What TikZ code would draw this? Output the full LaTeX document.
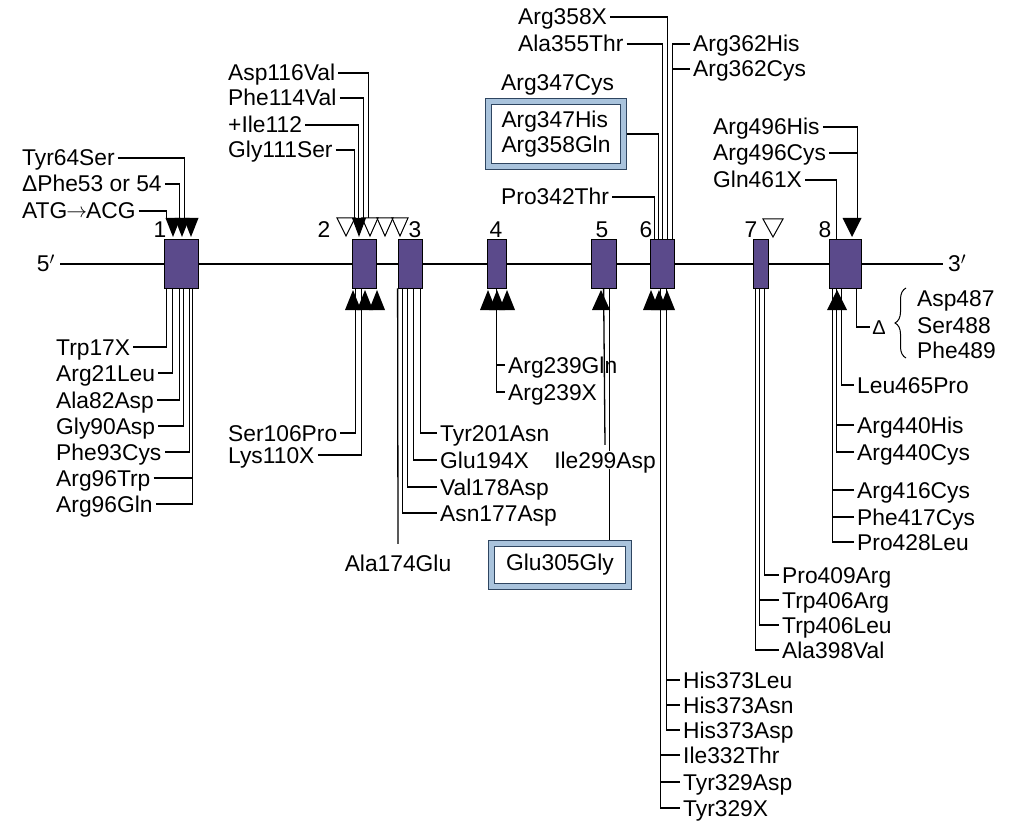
\documentclass[tikz,border=0pt]{standalone}
\usepackage{fontspec}
\setmainfont{Liberation Sans}
\usetikzlibrary{decorations.pathreplacing}
\definecolor{ExonFill}{HTML}{5B4A8B}
\definecolor{FrameInk}{HTML}{2E4560}
\definecolor{FrameBlue}{HTML}{A9C3DC}
\newcommand{\labsize}{\fontsize{22.8}{25}\selectfont}

\begin{document}
\begin{tikzpicture}[x=1pt, y=-1pt,
  exon/.style={draw=black, line width=0.8pt, fill=ExonFill, minimum height=49pt, inner sep=0pt},
  lab/.style={font=\labsize, inner sep=3pt, text height=16pt, text depth=0pt, anchor=west},
  num/.style={font=\labsize, inner sep=0pt, text height=16pt, text depth=0pt},
  link/.style={line width=1.3pt},
  hlbox/.style={draw=FrameInk, double=FrameBlue, double distance=4.5pt, line width=1.1pt,
                fill=white, outer sep=3.3pt, font=\labsize, align=left},
  solidtri/.style={fill=black},
  opentri/.style={draw=black, line width=1pt}]
  \useasboundingbox[fill=white] (0,0) rectangle (1015,821);

  % backbone and exons
  \coordinate (five) at (60,264);
  \coordinate (three) at (943,264);
  \draw[line width=2.6pt] (five) -- (three);
  \node[num, anchor=east] (p5) at (55,264) {5$'$};
  \node[num, anchor=west] (p3) at (948,264) {3$'$};

  \node[exon, minimum width=34pt] (e1) at (181,263.5) {};
  \node[exon, minimum width=24pt] (e2) at (364,263.5) {};
  \node[exon, minimum width=24pt] (e3) at (410,263.5) {};
  \node[exon, minimum width=19pt] (e4) at (496.5,263.5) {};
  \node[exon, minimum width=25pt] (e5) at (603.5,263.5) {};
  \node[exon, minimum width=24pt] (e6) at (662,263.5) {};
  \node[exon, minimum width=15pt] (e7) at (760.5,263.5) {};
  \node[exon, minimum width=32pt] (e8) at (845,263.5) {};

  \node[num] (n1) at (160,229.5) {1};
  \node[num] (n2) at (324,229.5) {2};
  \node[num] (n3) at (415,229.5) {3};
  \node[num] (n4) at (496,229.5) {4};
  \node[num] (n5) at (602,229.5) {5};
  \node[num] (n6) at (646,229.5) {6};
  \node[num] (n7) at (751,229.5) {7};
  \node[num] (n8) at (825,229.5) {8};

  % exon 1
  \node[lab] (tyr64) at (19,158) {Tyr64Ser};
  \node[lab] (dphe53) at (19,184) {ΔPhe53 or 54};
  \node[lab] (atg) at (19,211) {ATG\kern-1pt\raisebox{1.5pt}{\fontsize{20}{20}\selectfont$\rightarrow$}\kern-1pt ACG};
  \draw[link] (tyr64.east) -| ([xshift=21pt,yshift=21pt]e1.north west);
  \draw[link] (dphe53.east) -| ([xshift=16pt,yshift=21pt]e1.north west);
  \draw[link] (atg.east) -| ([xshift=3pt,yshift=21pt]e1.north west);

  \node[lab] (trp17) at (53,347) {Trp17X};
  \node[lab] (arg21) at (53,373) {Arg21Leu};
  \node[lab] (ala82) at (53,400) {Ala82Asp};
  \node[lab] (gly90) at (53,426) {Gly90Asp};
  \node[lab] (phe93) at (53,452) {Phe93Cys};
  \node[lab] (arg96trp) at (53,478) {Arg96Trp};
  \node[lab] (arg96gln) at (53,504) {Arg96Gln};
  \draw[link] ([xshift=3pt]e1.south west) |- (trp17.east);
  \draw[link] ([xshift=9pt]e1.south west) |- (arg21.east);
  \draw[link] ([xshift=16pt]e1.south west) |- (ala82.east);
  \draw[link] ([xshift=20pt]e1.south west) |- (gly90.east);
  \draw[link] ([xshift=26pt]e1.south west) |- (phe93.east);
  \draw[link] ([xshift=29pt]e1.south west) |- (arg96gln.east);
  \draw[link] (arg96trp.east) -- ([xshift=29pt]e1.south west |- arg96trp.east);

  % exon 2
  \node[lab] (asp116) at (225,73) {Asp116Val};
  \node[lab] (phe114) at (225,98) {Phe114Val};
  \node[lab] (ile112) at (225,125) {+Ile112};
  \node[lab] (gly111) at (225,150) {Gly111Ser};
  \draw[link] (asp116.east) -| ([xshift=17pt,yshift=21pt]e2.north west);
  \draw[link] (phe114.east) -| ([xshift=12pt,yshift=21pt]e2.north west);
  \draw[link] (ile112.east) -| ([xshift=7pt,yshift=21pt]e2.north west);
  \draw[link] (gly111.east) -| ([xshift=3pt,yshift=21pt]e2.north west);

  \node[lab] (ser106) at (225,433) {Ser106Pro};
  \node[lab] (lys110) at (225,455) {Lys110X};
  \draw[link] ([xshift=4pt]e2.south west) |- (ser106.east);
  \draw[link] ([xshift=10pt]e2.south west) |- (lys110.east);

  % exon 3
  \node[lab] (tyr201) at (437,433) {Tyr201Asn};
  \node[lab] (glu194) at (437,460) {Glu194X};
  \node[lab] (val178) at (437,487) {Val178Asp};
  \node[lab] (asn177) at (437,513) {Asn177Asp};
  \node[num] (ala174) at (398,563) {Ala174Glu};
  \draw[link] ([xshift=23pt]e3.south west) |- (tyr201.west);
  \draw[link] ([xshift=16pt]e3.south west) |- (glu194.west);
  \draw[link] ([xshift=10pt]e3.south west) |- (val178.west);
  \draw[link] ([xshift=5pt]e3.south west) |- (asn177.west);
  \draw[link] (e3.south west) -- ([yshift=11pt]ala174.north);

  % exon 4
  \node[lab] (arg239gln) at (505,365) {Arg239Gln};
  \node[lab] (arg239x) at (505,392) {Arg239X};
  \draw[link] ([xshift=10pt]e4.south west) |- (arg239x.west);
  \draw[link] (arg239gln.west) -- ([xshift=10pt]e4.south west |- arg239gln.west);

  % exon 5
  \node[hlbox, minimum width=137pt, minimum height=43pt] (glu305) at (560,565) {Glu305Gly};
  \draw[link] ([xshift=19pt]e5.south west) -- ([xshift=19pt]e5.south west |- glu305.north);
  \node[num, fill=white, inner sep=1pt] (ile299) at (605,460) {Ile299Asp};
  \draw[link] ([xshift=13pt]e5.south west) -- ([yshift=6pt]ile299.north);

  % exon 6
  \node[lab] (arg358x) at (515,17) {Arg358X};
  \node[lab] (ala355) at (515,44) {Ala355Thr};
  \node[lab] (arg362his) at (690,44) {Arg362His};
  \node[lab] (arg362cys) at (690,69) {Arg362Cys};
  \node[lab] (arg347cys) at (498,83) {Arg347Cys};
  \node[hlbox, minimum width=135pt, minimum height=65pt] (box347) at (556,134) {Arg347His\\Arg358Gln};
  \node[lab] (pro342) at (498,197) {Pro342Thr};
  \draw[link] (arg358x.east) -| ([xshift=18pt]e6.north west);
  \draw[link] (ala355.east) -| ([xshift=13pt]e6.north west);
  \draw[link] (box347.east) -| ([xshift=9pt]e6.north west);
  \draw[link] (pro342.east) -| ([xshift=5pt]e6.north west);
  \draw[link] ([xshift=23pt]e6.north west) |- (arg362his.west);
  \draw[link] (arg362cys.west) -- ([xshift=23pt]e6.north west |- arg362cys.west);

  \node[lab] (his373leu) at (680,680) {His373Leu};
  \node[lab] (his373asn) at (680,705) {His373Asn};
  \node[lab] (his373asp) at (680,730) {His373Asp};
  \node[lab] (ile332) at (680,755) {Ile332Thr};
  \node[lab] (tyr329asp) at (680,782) {Tyr329Asp};
  \node[lab] (tyr329x) at (680,808) {Tyr329X};
  \draw[link] ([xshift=17pt]e6.south west) |- (his373asp.west);
  \draw[link] (his373leu.west) -- ([xshift=17pt]e6.south west |- his373leu.west);
  \draw[link] (his373asn.west) -- ([xshift=17pt]e6.south west |- his373asn.west);
  \draw[link] ([xshift=11pt]e6.south west) |- (tyr329x.west);
  \draw[link] (ile332.west) -- ([xshift=11pt]e6.south west |- ile332.west);
  \draw[link] (tyr329asp.west) -- ([xshift=11pt]e6.south west |- tyr329asp.west);

  % exon 7
  \node[lab] (pro409) at (779,575) {Pro409Arg};
  \node[lab] (trp406arg) at (779,600) {Trp406Arg};
  \node[lab] (trp406leu) at (779,625) {Trp406Leu};
  \node[lab] (ala398) at (779,650) {Ala398Val};
  \draw[link] ([xshift=12pt]e7.south west) |- (pro409.west);
  \draw[link] ([xshift=7pt]e7.south west) |- (trp406leu.west);
  \draw[link] (trp406arg.west) -- ([xshift=7pt]e7.south west |- trp406arg.west);
  \draw[link] ([xshift=3pt]e7.south west) |- (ala398.west);

  % exon 8
  \node[lab] (arg496his) at (710,127) {Arg496His};
  \node[lab] (arg496cys) at (710,153) {Arg496Cys};
  \node[lab] (gln461) at (710,180) {Gln461X};
  \draw[link] (arg496his.east) -| ([xshift=29pt,yshift=21pt]e8.north west);
  \draw[link] (arg496cys.east) -- ([xshift=29pt]e8.north west |- arg496cys.east);
  \draw[link] (gln461.east) -| ([xshift=8pt]e8.north west);

  \node[num, font=\fontsize{20}{20}\selectfont, text height=14pt, inner sep=2pt] (del) at (879,327) {Δ};
  \node[lab] (asp487) at (914,298) {Asp487};
  \node[lab] (ser488) at (914,325) {Ser488};
  \node[lab] (phe489) at (914,350) {Phe489};
  \draw[line width=1pt, decorate, decoration={brace, amplitude=11pt}] (906,358) -- (906,288);
  \draw[link] ([xshift=28pt]e8.south west) |- (del.west);

  \node[lab] (leu465) at (854,385) {Leu465Pro};
  \node[lab] (arg440his) at (854,425) {Arg440His};
  \node[lab] (arg440cys) at (854,452) {Arg440Cys};
  \node[lab] (arg416) at (854,490) {Arg416Cys};
  \node[lab] (phe417) at (854,517) {Phe417Cys};
  \node[lab] (pro428) at (854,542) {Pro428Leu};
  \draw[link] ([xshift=13pt]e8.south west) |- (leu465.west);
  \draw[link] ([xshift=8pt]e8.south west) |- (arg440cys.west);
  \draw[link] (arg440his.west) -- ([xshift=8pt]e8.south west |- arg440his.west);
  \draw[link] ([xshift=4pt]e8.south west) |- (pro428.west);
  \draw[link] (arg416.west) -- ([xshift=4pt]e8.south west |- arg416.west);
  \draw[link] (phe417.west) -- ([xshift=4pt]e8.south west |- phe417.west);

  % mutation markers above the exons
  \foreach \c in {173,182,191}
    \fill[solidtri] (\c-7.5,218) -- (\c+7.5,218) -- (\c,237) -- cycle;
  \draw[opentri] (337,218) -- (355,218) -- (346,236) -- cycle;
  \foreach \c in {370,385,400}
    \draw[opentri] (\c-8,218) -- (\c+8,218) -- (\c,236) -- cycle;
  \fill[solidtri] (352,218) -- (366,218) -- (359,237) -- cycle;
  \draw[opentri] (763,219) -- (783,219) -- (773,237) -- cycle;
  \fill[solidtri] (842.5,218) -- (861.5,218) -- (852,237) -- cycle;

  % mutation markers below the exons
  \foreach \c/\h in {353/8,365/8,377/8,488/8,497/8,507/8,601/9,651/8,659/8,667/8,837/10}
    \fill[solidtri] (\c-\h,310) -- (\c+\h,310) -- (\c,290) -- cycle;
\end{tikzpicture}
\end{document}
